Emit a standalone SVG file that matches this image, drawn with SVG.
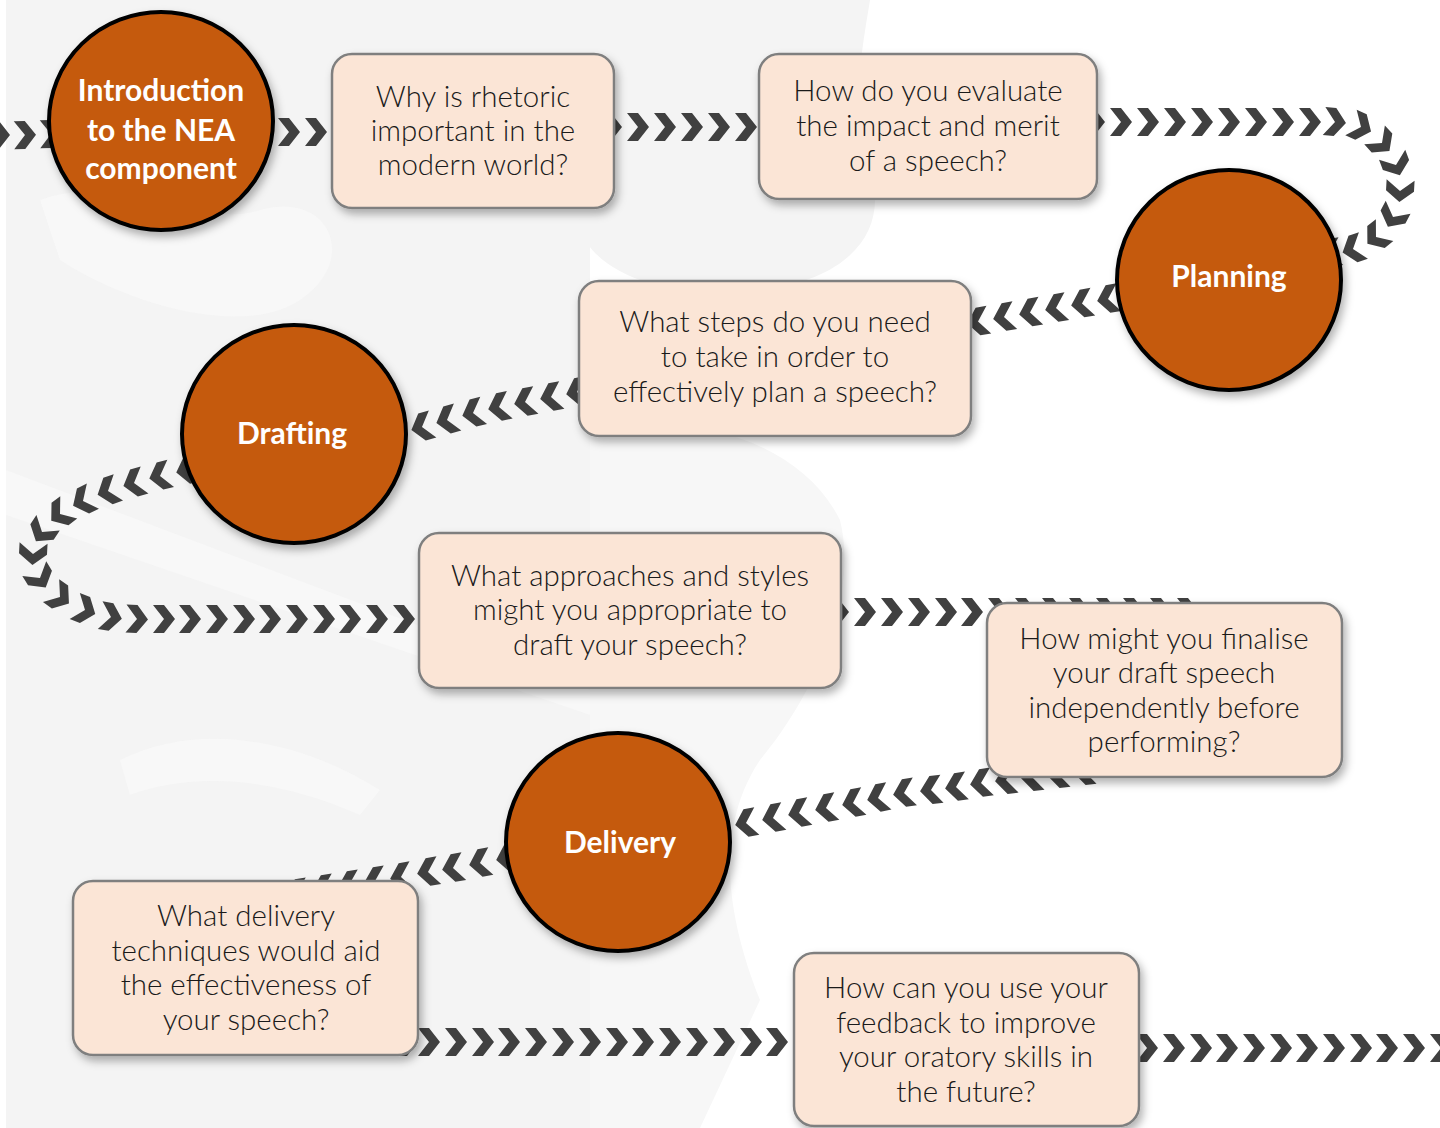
<svg xmlns="http://www.w3.org/2000/svg" width="1440" height="1128" viewBox="0 0 1440 1128">
<style>
.bg{fill:#f4f4f4}
.bg2{fill:#f7f7f7}
.bgw{fill:#fafafa}
.chev{fill:none;stroke:none;marker-start:url(#chev);marker-mid:url(#chev);marker-end:url(#chev)}
.stage{fill:#c55a11;stroke:#000;stroke-width:4;filter:url(#shadow)}
.box{fill:#fbe5d6;stroke:#7f7f7f;stroke-width:2.5;filter:url(#shadow)}
.st{font-family:Lato,"Liberation Sans",sans-serif;font-weight:700;font-size:30px;fill:#fff;text-anchor:middle}
.q{font-family:Lato,"Liberation Sans",sans-serif;font-weight:300;font-size:29.5px;fill:#1a1a1a;text-anchor:middle}
</style>
<defs>
<filter id="shadow" x="-10%" y="-10%" width="125%" height="130%">
<feDropShadow dx="3" dy="5" stdDeviation="4" flood-color="#000" flood-opacity="0.3"/>
</filter>
<marker id="chev" viewBox="-12 -15 24 30" refX="0" refY="0" markerWidth="24" markerHeight="30" markerUnits="userSpaceOnUse" orient="auto">
<path d="M-11,-14H0L11,0L0,14H-11L0,0Z" fill="#404040"/>
</marker>
</defs>
<rect width="1440" height="1128" fill="#fff"/>
<g id="background">
<rect class="bg" x="6" y="0" width="584" height="1128"/>
<path class="bg" d="M560,0 L870,0 C860,60 850,120 870,170 C890,230 850,280 760,290 C680,300 600,280 580,230 Z"/>
<path class="bg2" d="M590,430 C690,410 800,440 840,520 C860,600 810,700 760,760 C720,820 720,900 760,1000 L700,1128 L590,1128 Z"/>
<path class="bgw" d="M6,470 L590,690 L590,715 L6,515 Z" opacity="0.6"/>
<path class="bgw" d="M40,200 C120,170 200,230 260,210 C330,190 360,260 300,300 C240,340 120,300 60,260 Z" opacity="0.6"/>
<path class="bgw" d="M120,760 C200,720 300,740 380,790 L360,815 C280,780 200,770 130,795 Z" opacity="0.6"/>
</g>
<g id="connectors">
<polyline class="chev" points="-1,135 25,135 51,134 80,134 110,133 140,133 170,133 200,132 230,132 260,132 289,132 316,132"/>
<polyline class="chev" points="611,127 638,127 665,127 692,127 719,127 746,127"/>
<polyline class="chev" points="1094,122 1121,122 1148,122 1175,122 1202,122 1229,122 1256,122 1283,122 1310,122 1335,122 1361,127 1382,143 1396,165 1400,191 1393,217 1376,237 1353,249 1330,253"/>
<polyline class="chev" points="1108,299 1082,303.5 1056,308 1030,312.5 1004,317 978,321.5 952,326"/>
<polyline class="chev" points="590,389 577,392 551,397 525,402 499,407 473,413 447,420 422,427"/>
<polyline class="chev" points="187,470 160,476 134,483 108,491 83,501 60,514 42,532 33,554 40,578 60,597 85,610 111,617 137,619 164,619 190,619 217,619 244,619 270,619 297,619 324,619 350,619 377,619 404,619"/>
<polyline class="chev" points="838,612 865,612 892,612 919,612 946,612 972,612 999,612 1026,612 1053,612 1080,612 1107,612 1134,612 1161,612 1188,612"/>
<polyline class="chev" points="1084,771 1058,774 1032,777 1006,780 981,783 956,787 931,790 904,793 878,798 853,803 826,808 799,813 773,818 746,823"/>
<polyline class="chev" points="507,858 480,863 453,868 428,872 401,877 375,881 349,885 323,889 297,893"/>
<polyline class="chev" points="407,1042 429,1042 456,1042 483,1042 509,1042 536,1042 563,1042 590,1042 617,1042 643,1042 670,1042 697,1042 724,1042 751,1042 777,1042 804,1042"/>
<polyline class="chev" points="1147,1048 1174,1048 1201,1048 1227,1048 1254,1048 1281,1048 1307,1048 1334,1048 1361,1048 1387,1048 1414,1048 1441,1048"/>
</g>
<g id="intro">
<ellipse class="stage" cx="161" cy="121" rx="112" ry="109"/>
<text class="st" x="161" y="101">Introduction</text>
<text class="st" x="161" y="141">to the NEA</text>
<text class="st" x="161" y="179">component</text>
</g>
<g id="q-rhetoric">
<rect class="box" x="332" y="54" width="282" height="154" rx="20"/>
<text class="q" x="473" y="107">Why is rhetoric</text>
<text class="q" x="473" y="141">important in the</text>
<text class="q" x="473" y="175">modern world?</text>
</g>
<g id="q-evaluate">
<rect class="box" x="759" y="54" width="338" height="145" rx="20"/>
<text class="q" x="928" y="101">How do you evaluate</text>
<text class="q" x="928" y="136">the impact and merit</text>
<text class="q" x="928" y="171">of a speech?</text>
</g>
<g id="planning">
<ellipse class="stage" cx="1229" cy="280" rx="112" ry="110"/>
<text class="st" x="1229" y="287">Planning</text>
</g>
<g id="q-plan">
<rect class="box" x="579" y="281" width="392" height="155" rx="20"/>
<text class="q" x="775" y="332">What steps do you need</text>
<text class="q" x="775" y="367">to take in order to</text>
<text class="q" x="775" y="402">effectively plan a speech?</text>
</g>
<g id="drafting">
<ellipse class="stage" cx="294" cy="434" rx="112" ry="109"/>
<text class="st" x="292" y="444">Drafting</text>
</g>
<g id="q-draft">
<rect class="box" x="419" y="533" width="422" height="155" rx="20"/>
<text class="q" x="630" y="586">What approaches and styles</text>
<text class="q" x="630" y="620">might you appropriate to</text>
<text class="q" x="630" y="655">draft your speech?</text>
</g>
<g id="q-finalise">
<rect class="box" x="987" y="603" width="355" height="174" rx="20"/>
<text class="q" x="1164" y="649">How might you finalise</text>
<text class="q" x="1164" y="683">your draft speech</text>
<text class="q" x="1164" y="718">independently before</text>
<text class="q" x="1164" y="752">performing?</text>
</g>
<g id="delivery">
<ellipse class="stage" cx="618" cy="842" rx="112" ry="109"/>
<text class="st" x="620" y="853">Delivery</text>
</g>
<g id="q-delivery">
<rect class="box" x="73" y="881" width="345" height="174" rx="20"/>
<text class="q" x="246" y="926">What delivery</text>
<text class="q" x="246" y="961">techniques would aid</text>
<text class="q" x="246" y="995">the effectiveness of</text>
<text class="q" x="246" y="1030">your speech?</text>
</g>
<g id="q-feedback">
<rect class="box" x="794" y="953" width="345" height="173" rx="20"/>
<text class="q" x="966" y="998">How can you use your</text>
<text class="q" x="966" y="1033">feedback to improve</text>
<text class="q" x="966" y="1067">your oratory skills in</text>
<text class="q" x="966" y="1102">the future?</text>
</g>
</svg>
